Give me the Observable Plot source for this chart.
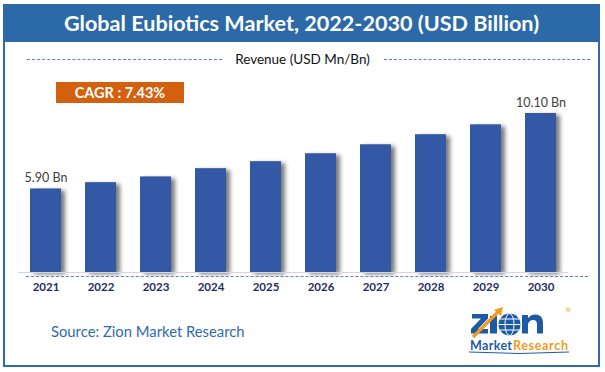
<!DOCTYPE html>
<html>
<head>
<meta charset="utf-8">
<script src="https://cdn.jsdelivr.net/npm/d3@7"></script>
<script src="https://cdn.jsdelivr.net/npm/@observablehq/plot@0.6"></script>
<style>
  html, body { margin: 0; padding: 0; background: #fff; }
  body { width: 605px; height: 372px; position: relative; overflow: hidden; font-family: Lato, "Open Sans", sans-serif; }
  .frame { position: absolute; left: 3px; top: 4px; width: 597px; height: 363px; border: 2.5px solid #2e6cae; box-sizing: border-box; }
  .band { position: absolute; left: 3px; top: 4px; width: 597px; height: 38px; background: #2c69a8; color: #fff;
          font-weight: 700; font-size: 21.6px; text-align: center; line-height: 38px; }
  .subtitle { position: absolute; left: 0; top: 50px; width: 605px; text-align: center; font-size: 13.5px; color: #111; line-height: 18px; }
  .dash { position: absolute; height: 0; border-top: 1.3px dashed #5b84c8; }
  .cagr { position: absolute; left: 56px; top: 82px; width: 128px; height: 21px; background: #d2600f; color: #fff;
          font-weight: 700; font-size: 14.5px; line-height: 21px; text-align: center; }
  .source { position: absolute; left: 51px; top: 322px; font-size: 14.8px; color: #2f6aad; }
  #chart { position: absolute; left: 0; top: 95px; }
  #logo { position: absolute; left: 464px; top: 304px; }
</style>
</head>
<body>
<div class="frame"></div>
<div class="band" id="title"></div>
<div class="subtitle" id="subtitle"></div>
<div class="dash" style="left:27px; top:59px; width:195px;"></div>
<div class="dash" style="left:384px; top:59px; width:206px;"></div>
<div class="cagr" id="cagr"></div>
<div id="chart"></div>
<div class="dash" style="left:26px; top:276px; width:562px;"></div>
<div class="source" id="source"></div>
<svg id="logo" width="112" height="52" viewBox="0 0 112 52">
  <path d="M8 10 H24 V14.5 L14 25 H24 V29.5 H7 V25 L17 14.5 H8 Z" fill="#1d5aa6"></path>
  <rect x="26" y="12" width="7" height="17.5" fill="#1d5aa6"></rect>
  <path d="M9 33 L 34 8" stroke="#f39a1e" stroke-width="3.2" fill="none"></path>
  <path d="M30 6 L 39 3 L 37 12 Z" fill="#f39a1e"></path>
  <circle cx="45.5" cy="20.5" r="11" fill="#1d5aa6"></circle>
  <ellipse cx="45.5" cy="20.5" rx="4.5" ry="11" fill="none" stroke="#fff" stroke-width="1"></ellipse>
  <path d="M34.5 20.5 H56.5 M36 15 H55 M36 26 H55" stroke="#fff" stroke-width="1"></path>
  <path d="M58 29.5 V11 H64 V14 C 66 11.5, 69 10.5, 71.5 10.5 C 76.5 10.5, 79 14, 79 19 V29.5 H73 V20 C 73 17.5, 71.5 16, 69.5 16 C 66.5 16, 64 18, 64 21 V29.5 Z" fill="#1d5aa6"></path>
  <text x="101" y="8" font-family="DejaVu Sans" font-size="6.5" fill="#f39a1e">®</text>
  <text x="6" y="46" font-family="Lato, sans-serif" font-weight="700" font-size="12.5" fill="#1d5aa6" textLength="42">Market</text>
  <text x="49" y="46" font-family="Lato, sans-serif" font-weight="700" font-size="12.5" fill="#f39a1e" textLength="55">Research</text>
  <path d="M5 48 Q 55 51 105 48" stroke="#1d5aa6" stroke-width="1" fill="none"></path>
</svg>
<script>
// ---- data ----
const titleText = "Global Eubiotics Market, 2022-2030 (USD Billion)";
const subtitleText = "Revenue (USD Mn/Bn)";
const cagrText = "CAGR : 7.43%";
const sourceText = "Source: Zion Market Research";
const years = ["2021", "2022", "2023", "2024", "2025", "2026", "2027", "2028", "2029", "2030"];
const revenue = [5.90, 6.25, 6.57, 7.03, 7.42, 7.86, 8.36, 8.92, 9.47, 10.10];
const valueLabels = ["5.90 Bn", "", "", "", "", "", "", "", "", "10.10 Bn"];
const axisMin = 1.25; // value axis minimum (chart does not start at zero)

document.getElementById("title").textContent = titleText;
document.getElementById("subtitle").textContent = subtitleText;
document.getElementById("cagr").textContent = cagrText;
document.getElementById("source").textContent = sourceText;

const data = years.map((year, i) => ({year, value: revenue[i], label: valueLabels[i]}));

const plot = Plot.plot({
  width: 605,
  height: 210,
  marginLeft: 18,
  marginRight: 37,
  marginTop: 18,
  marginBottom: 33,
  style: {fontFamily: "Lato, 'Open Sans', sans-serif", background: "transparent", overflow: "visible"},
  x: {domain: years, paddingInner: 0.436, paddingOuter: 0.218, label: null},
  y: {domain: [axisMin, revenue[revenue.length - 1]], axis: null},
  marks: [
    Plot.barY(data, {x: "year", y1: axisMin, y2: "value", fill: "#7a7a7a", dx: 4, dy: 2}),
    Plot.barY(data, {x: "year", y1: axisMin, y2: "value", fill: "#3358a5"}),
    Plot.ruleY([axisMin], {stroke: "#d6d6d6", strokeWidth: 1.2}),
    Plot.text(data.filter(d => d.label), {x: "year", y: "value", text: "label", dy: -11, fontSize: 12.5, fill: "#404040"}),
    Plot.axisX({tickSize: 0, tickPadding: 10, fontSize: 11.5, fontWeight: "bold", fill: "#1f2d5e", label: null})
  ]
});
document.getElementById("chart").appendChild(plot);

// soft drop shadow on the offset bars
const svg = d3.select(plot);
const defs = svg.insert("defs", ":first-child");
const f = defs.append("filter").attr("id", "barShadow").attr("x", "-50%").attr("y", "-10%").attr("width", "200%").attr("height", "120%");
f.append("feGaussianBlur").attr("stdDeviation", 2);
svg.selectAll("g[aria-label='bar']").filter((d, i) => i === 0).attr("filter", "url(#barShadow)");
</script>
</body>
</html>
